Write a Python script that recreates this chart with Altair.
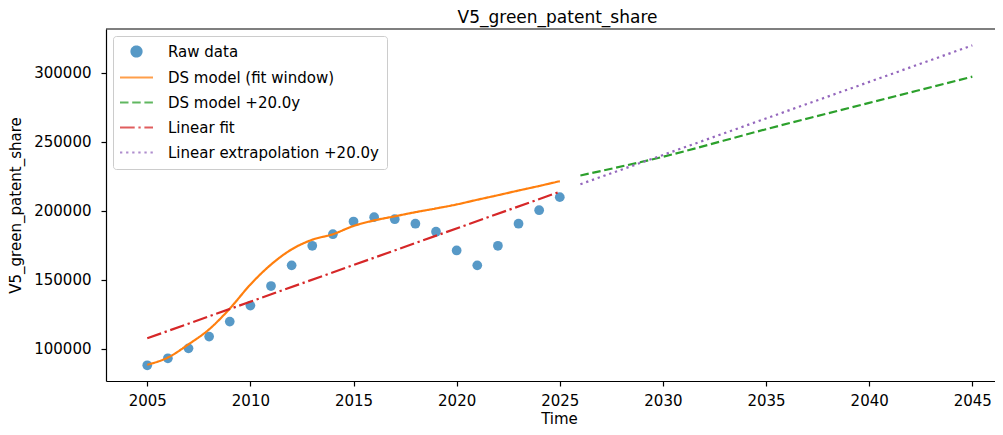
import altair as alt
import pandas as pd

# ---------------- data ----------------
years_raw = list(range(2005, 2026))
raw_values = [87900, 92970, 100200, 108700, 119600, 131200, 145400, 160400, 174600,
              183000, 192200, 195400, 193900, 190600, 184800, 171200, 160400, 174600,
              190600, 200400, 209900]

ds_fit_years = list(range(2005, 2026))
ds_fit_values = [88300, 93500, 103100, 114000, 129000, 146500, 161000, 172000, 179000,
                 183000, 189000, 193000, 196000, 199000, 201700, 204600, 208000, 211300,
                 214700, 218000, 221500]

ds_proj_years = [2026, 2030, 2035, 2040, 2045]
ds_proj_values = [225600, 239200, 259200, 278300, 297300]

lin_fit_years = [2005, 2025]
lin_fit_values = [107500, 213800]

lin_ext_years = [2026, 2045]
lin_ext_values = [219300, 320000]

series_names = ["Raw data", "DS model (fit window)", "DS model +20.0y",
                "Linear fit", "Linear extrapolation +20.0y"]
series_colors = ["#1f77b4", "#ff7f0e", "#2ca02c", "#d62728", "#9467bd"]
series_dashes = [[1, 0], [1, 0], [8.5, 3.7], [14.7, 3.7, 2.3, 3.7], [2.3, 3.8]]
line_path = "M-3.3,0L3.3,0"
series_shapes = ["circle", line_path, line_path, line_path, line_path]

x_ticks = [2005, 2010, 2015, 2020, 2025, 2030, 2035, 2040, 2045]
y_ticks = [100000, 150000, 200000, 250000, 300000]

# ---------------- tables ----------------
df_raw = pd.DataFrame({"year": years_raw, "value": raw_values, "series": series_names[0]})
df_lines = pd.concat([
    pd.DataFrame({"year": ds_fit_years, "value": ds_fit_values, "series": series_names[1]}),
    pd.DataFrame({"year": ds_proj_years, "value": ds_proj_values, "series": series_names[2]}),
    pd.DataFrame({"year": lin_fit_years, "value": lin_fit_values, "series": series_names[3]}),
    pd.DataFrame({"year": lin_ext_years, "value": lin_ext_values, "series": series_names[4]}),
], ignore_index=True)

W, H = 889, 352
FONT = "DejaVu Sans"

x_enc = alt.X("year:Q",
              scale=alt.Scale(domain=[2003, 2046.1], nice=False, zero=False),
              axis=alt.Axis(title="Time", values=x_ticks, format="d",
                            titleX=453, titleY=42, titleBaseline="alphabetic",
                            titleAlign="center", labelPadding=7))
y_enc = alt.Y("value:Q",
              scale=alt.Scale(domain=[76500, 331900], nice=False, zero=False),
              axis=alt.Axis(title="V5_green_patent_share", values=y_ticks, format="d",
                            titleX=-86, titleY=176, titleBaseline="alphabetic",
                            titleAlign="center", labelPadding=10))

legend = alt.Legend(title=None, orient="none", legendX=7, legendY=7, padding=8,
                    symbolOffset=8, labelOffset=24, rowPadding=9,
                    labelFontSize=15, labelFont=FONT, labelColor="black",
                    symbolSize=100, symbolStrokeWidth=2.2,
                    fillColor="white", strokeColor="#cccccc", cornerRadius=3,
                    labelLimit=400)

color_enc = alt.Color("series:N",
                      scale=alt.Scale(domain=series_names, range=series_colors),
                      sort=series_names, legend=legend)
shape_enc = alt.Shape("series:N",
                      scale=alt.Scale(domain=series_names, range=series_shapes),
                      sort=series_names, legend=legend)
dash_enc = alt.StrokeDash("series:N",
                          scale=alt.Scale(domain=series_names, range=series_dashes),
                          sort=series_names, legend=legend)

points = alt.Chart(df_raw).mark_point(filled=True, size=95, opacity=0.75).encode(
    x=x_enc, y=y_enc, color=color_enc, shape=shape_enc)

lines = alt.Chart(df_lines).mark_line(strokeWidth=2.2, interpolate="monotone").encode(
    x=x_enc, y=y_enc, color=color_enc, strokeDash=dash_enc, detail="series:N")

top_rule = alt.Chart(pd.DataFrame({"k": [0]})).mark_rule(color="black", strokeWidth=1.2).encode(
    x=alt.value(0), x2=alt.value(W), y=alt.value(0))

chart = alt.layer(points, lines, top_rule).properties(
    width=W, height=H,
    title=alt.TitleParams("V5_green_patent_share", fontSize=17, font=FONT,
                          fontWeight="normal", color="black", anchor="middle",
                          dx=7, offset=1),
    autosize=alt.AutoSizeParams(type="none"),
    padding={"left": 98, "top": 21, "right": 0, "bottom": 46},
).configure_view(stroke=None).configure_axis(
    grid=False, domainColor="black", domainWidth=1.2, tickColor="black",
    tickWidth=1.2, tickSize=5, labelFont=FONT, labelFontSize=15,
    labelColor="black", titleFont=FONT, titleFontSize=15, titleColor="black",
    titleFontWeight="normal"
)

chart.save("out.html", embed_options={"renderer": "svg", "actions": False})
